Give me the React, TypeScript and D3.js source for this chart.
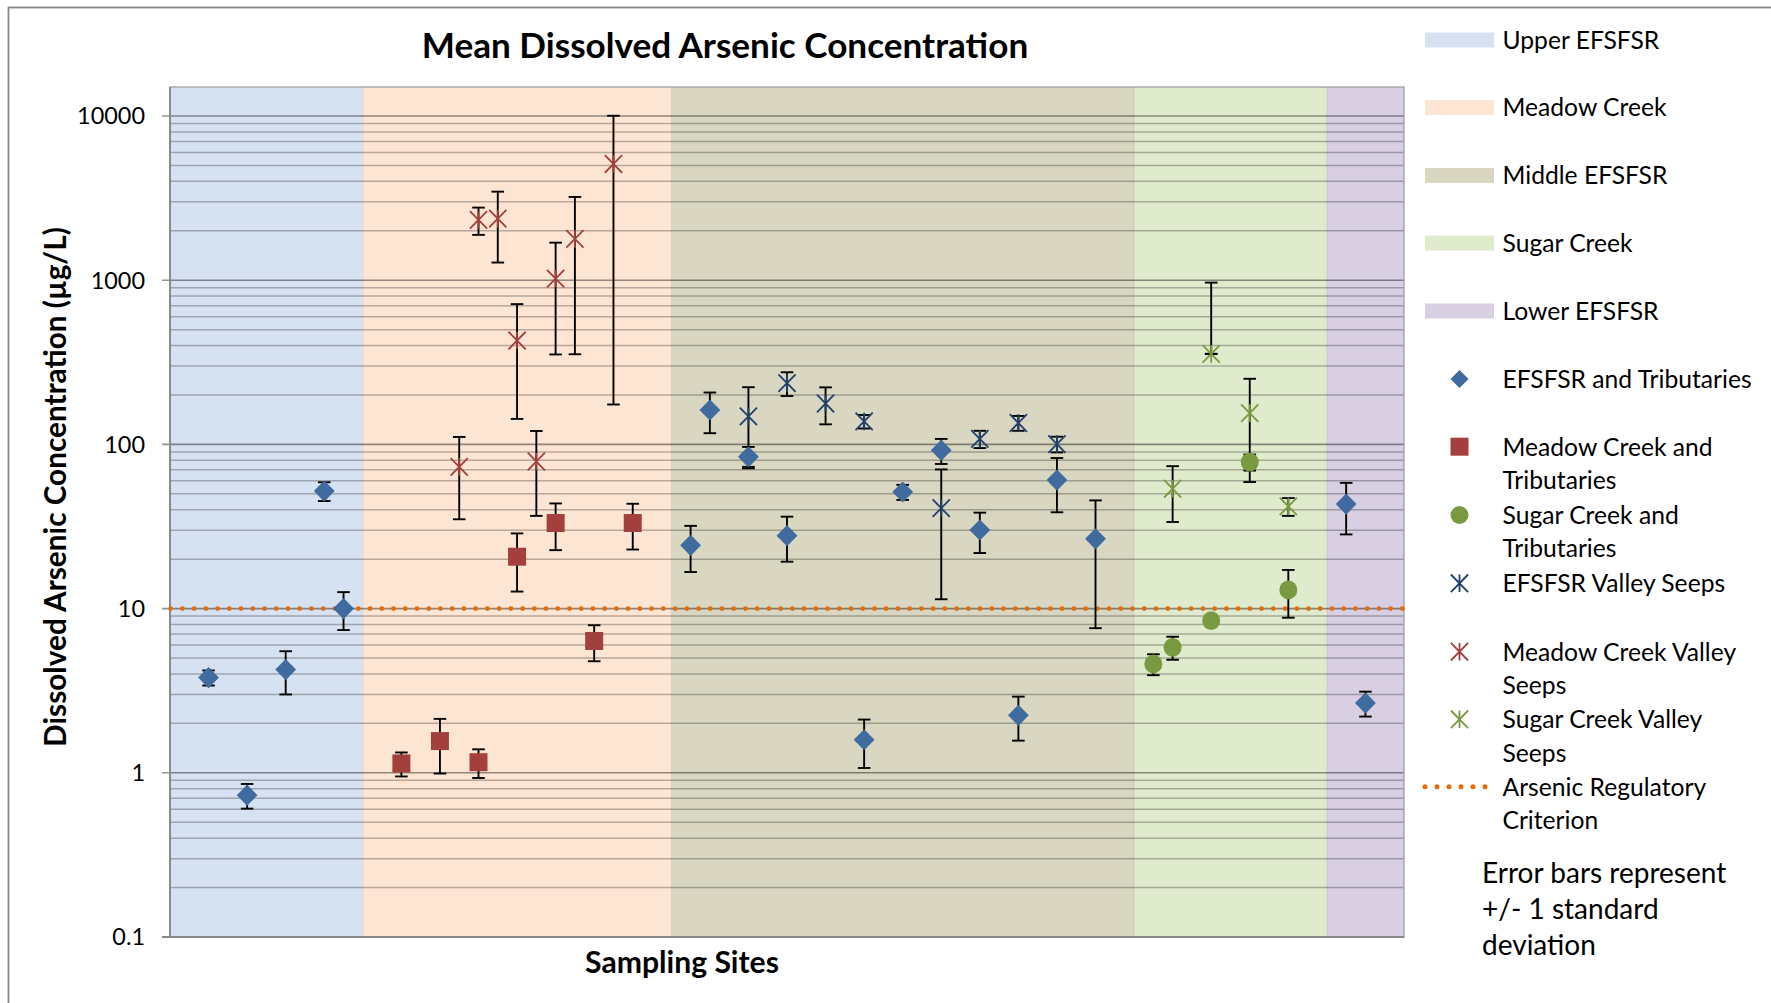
import React, { useMemo } from "react";
import * as d3 from "d3";

const W = 1771;
const H = 1003;
const FAMILY = "Lato";
const FONT = "Lato, 'Open Sans', sans-serif";

// ---------- data ----------
const title = "Mean Dissolved Arsenic Concentration";
const yAxisTitle = "Dissolved Arsenic Concentration (µg/L)";
const xAxisTitle = "Sampling Sites";

const bandNames = ["Upper EFSFSR", "Meadow Creek", "Middle EFSFSR", "Sugar Creek", "Lower EFSFSR"];
const bandStart = [0, 10, 26, 50, 60];
const bandEnd = [10, 26, 50, 60, 64];

const efsX = [2, 4, 6, 8, 9, 27, 28, 30, 32, 36, 38, 40, 42, 44, 46, 48, 61, 62];
const efsMean = [3.8, 0.73, 4.25, 52, 10, 24.3, 162, 84, 27.8, 1.59, 51.3, 92, 30.1, 2.24, 60.6, 26.6, 43.3, 2.66];
const efsSD = [0.4, 0.125, 1.25, 6.8, 2.6, 7.6, 45, 12.5, 8.5, 0.52, 5.4, 16, 8.3, 0.67, 22, 19, 15, 0.46];

const meadowX = [12, 14, 16, 18, 20, 22, 24];
const meadowMean = [1.14, 1.56, 1.16, 20.7, 33.2, 6.35, 33.2];
const meadowSD = [0.19, 0.57, 0.23, 8, 10.5, 1.57, 10.3];

const sugarX = [51, 52, 54, 56, 58];
const sugarMean = [4.6, 5.81, 8.44, 78, 13.0];
const sugarSD = [0.67, 0.93, 0, 8.7, 4.2];

const efsSeepX = [30, 32, 34, 36, 40, 42, 44, 46];
const efsSeepMean = [148, 236, 177.5, 138, 40.9, 108, 135, 100.4];
const efsSeepSD = [75, 39, 45, 13, 29.5, 13, 14, 11];

const meadowSeepX = [15, 16, 17, 18, 19, 20, 21, 23];
const meadowSeepMean = [73, 2328, 2371, 429, 78.7, 1023, 1784, 5105];
const meadowSeepSD = [38, 440, 1090, 286, 42, 670, 1430, 4930];

const sugarSeepX = [52, 54, 56, 58];
const sugarSeepMean = [53.7, 356, 155, 41.9];
const sugarSeepSD = [20, 611, 96, 5.2];

const criterion = 10;

const yTickValues = [0.1, 1, 10, 100, 1000, 10000];
const yTickLabels = ["0.1", "1", "10", "100", "1000", "10000"];

const markerLegendLines = [
  ["EFSFSR and Tributaries"],
  ["Meadow Creek and", "Tributaries"],
  ["Sugar Creek and", "Tributaries"],
  ["EFSFSR Valley Seeps"],
  ["Meadow Creek Valley", "Seeps"],
  ["Sugar Creek Valley", "Seeps"],
  ["Arsenic Regulatory", "Criterion"],
];
const noteLines = ["Error bars represent", "+/- 1 standard", "deviation"];

// ---------- styles ----------
const bandColors = ["#D6E1F1", "#FDE5D3", "#D9D6C2", "#E0EACD", "#D8CFE3"];
const C_EFS = "#3F6B9F";
const C_MEADOW = "#A3403D";
const C_SUGAR = "#7A9A42";
const C_EFS_SEEP = "#23406B";
const C_CRIT = "#E46C0A";

let _ctx: CanvasRenderingContext2D | null = null;
function textWidth(text: string, weight: number) {
  if (!_ctx) _ctx = document.createElement("canvas").getContext("2d");
  if (!_ctx) return text.length * 50;
  _ctx.font = `${weight} 100px ${FAMILY}`;
  return _ctx.measureText(text).width;
}
function fit(text: string, weight: number, target: number) {
  return (100 * target) / textWidth(text, weight);
}

type Pt = { x: number; m: number; sd: number };
function zip(xs: number[], ms: number[], sds: number[]): Pt[] {
  return xs.map((x, i) => ({ x, m: ms[i], sd: sds[i] }));
}

export default function App() {
  const plotL = 170, plotR = 1404, plotT = 87, plotB = 937;
  const x = d3.scaleLinear().domain([0, 64]).range([plotL, plotR]);
  const y = d3.scaleLog().domain([0.1, 10000]).range([plotB, 116]);

  const sizes = useMemo(
    () => ({
      tick: fit("10000", 400, 68),
      legend: fit("EFSFSR and Tributaries", 400, 250),
      note: fit("Error bars represent", 400, 245),
      title: fit(title, 700, 608),
      xl: fit(xAxisTitle, 700, 194),
      yl: fit(yAxisTitle, 700, 521),
    }),
    []
  );
  const CAP = 0.7165;

  const majors: number[] = [];
  const minors: number[] = [];
  for (let k = -1; k <= 4; k++) {
    majors.push(Math.pow(10, k));
    if (k < 4) for (let m = 2; m <= 9; m++) minors.push(m * Math.pow(10, k));
  }

  const efs = zip(efsX, efsMean, efsSD);
  const meadow = zip(meadowX, meadowMean, meadowSD);
  const sugar = zip(sugarX, sugarMean, sugarSD);
  const efsSeep = zip(efsSeepX, efsSeepMean, efsSeepSD);
  const meadowSeep = zip(meadowSeepX, meadowSeepMean, meadowSeepSD);
  const sugarSeep = zip(sugarSeepX, sugarSeepMean, sugarSeepSD);
  const allPts = [...efs, ...meadow, ...sugar, ...efsSeep, ...meadowSeep, ...sugarSeep];

  const capW = 6.3;
  const errorBar = (p: Pt, i: number) => {
    if (!(p.sd > 0)) return null;
    const cx = x(p.x);
    const yHi = y(p.m + p.sd);
    const lo = p.m - p.sd;
    const yLo = lo > 0 ? y(lo) : y(p.m);
    return (
      <g key={"e" + i} stroke="#000" strokeWidth={1.9} fill="none">
        <line x1={cx} x2={cx} y1={yHi} y2={yLo} />
        <line x1={cx - capW} x2={cx + capW} y1={yHi} y2={yHi} />
        <line x1={cx - capW} x2={cx + capW} y1={yLo} y2={yLo} />
      </g>
    );
  };

  const diamond = (cx: number, cy: number, key: string) => (
    <path key={key} d={`M${cx},${cy - 10.6}L${cx + 10.4},${cy}L${cx},${cy + 10.6}L${cx - 10.4},${cy}Z`} fill={C_EFS} />
  );
  const square = (cx: number, cy: number, key: string, c: string) => (
    <rect key={key} x={cx - 9} y={cy - 9} width={18} height={18} fill={c} />
  );
  const circle = (cx: number, cy: number, key: string) => (
    <ellipse key={key} cx={cx} cy={cy} rx={9} ry={9.4} fill={C_SUGAR} />
  );
  const star = (cx: number, cy: number, key: string, c: string) => (
    <path
      key={key}
      d={`M${cx - 8.6},${cy - 8.8}L${cx + 8.6},${cy + 8.8}M${cx - 8.6},${cy + 8.8}L${cx + 8.6},${cy - 8.8}M${cx},${cy - 8.8}L${cx},${cy + 8.8}`}
      stroke={c}
      strokeWidth={1.8}
      fill="none"
    />
  );

  const legendBandY = [40, 107.5, 175.5, 243, 311];
  const legendMarkerY = [379, 446.7, 515, 583.3, 651.7, 719.3, 786.7];
  const legendLineGap = 33.4;
  const lgMx = 1459.5;
  const lgTx = 1502.5;

  const legendMarker = (i: number, cy: number) => {
    switch (i) {
      case 0:
        return <path d={`M${lgMx},${cy - 9}L${lgMx + 9},${cy}L${lgMx},${cy + 9}L${lgMx - 9},${cy}Z`} fill={C_EFS} />;
      case 1:
        return <rect x={lgMx - 9} y={cy - 9} width={18} height={18} fill={C_MEADOW} />;
      case 2:
        return <circle cx={lgMx} cy={cy} r={9} fill={C_SUGAR} />;
      case 3:
        return star(lgMx, cy, "ls3", C_EFS_SEEP);
      case 4:
        return star(lgMx, cy, "ls4", C_MEADOW);
      case 5:
        return star(lgMx, cy, "ls5", C_SUGAR);
      default:
        return (
          <line x1={1425} x2={1488} y1={cy} y2={cy} stroke={C_CRIT} strokeWidth={5} strokeLinecap="round" strokeDasharray="0 12" />
        );
    }
  };

  return (
    <svg width={W} height={H} style={{ position: "absolute", left: 0, top: 0, background: "#fff" }} fontFamily={FONT}>
      <rect x={0} y={0} width={W} height={H} fill="#fff" />
      <rect x={8.5} y={7.5} width={W + 50} height={H + 50} fill="none" stroke="#878787" strokeWidth={1.8} />

      <text x={725} y={45 + (sizes.title * CAP) / 2} textAnchor="middle" fontWeight={700} fontSize={sizes.title} fill="#000">
        {title}
      </text>

      {/* bands */}
      {bandNames.map((n, i) => (
        <rect key={n} x={x(bandStart[i])} y={plotT} width={x(bandEnd[i]) - x(bandStart[i])} height={plotB - plotT} fill={bandColors[i]} />
      ))}
      {bandStart.slice(1).map((b, i) => (
        <line key={"bb" + i} x1={x(b)} x2={x(b)} y1={plotT} y2={plotB} stroke="#000" strokeOpacity={0.06} strokeWidth={1.2} />
      ))}

      {/* gridlines */}
      {minors.map((v) => (
        <line key={"mn" + v} x1={plotL} x2={plotR} y1={y(v)} y2={y(v)} stroke="#000" strokeOpacity={0.27} strokeWidth={1.5} />
      ))}
      {majors.map((v) => (
        <line key={"mj" + v} x1={plotL - 8} x2={plotR} y1={y(v)} y2={y(v)} stroke="#000" strokeOpacity={0.42} strokeWidth={1.6} />
      ))}

      {/* plot border & axis */}
      <rect x={plotL} y={plotT} width={plotR - plotL} height={plotB - plotT} fill="none" stroke="#A6A6A6" strokeWidth={1.4} />
      <line x1={plotL} x2={plotL} y1={plotT} y2={plotB} stroke="#868686" strokeWidth={1.8} />
      <line x1={plotL - 8} x2={plotR} y1={plotB} y2={plotB} stroke="#868686" strokeWidth={1.8} />

      {yTickValues.map((v, i) => (
        <text key={"t" + v} x={145} y={y(v) + (sizes.tick * CAP) / 2} textAnchor="end" fontSize={sizes.tick} fill="#000">
          {yTickLabels[i]}
        </text>
      ))}

      {/* criterion */}
      <line
        x1={plotL + 0.7}
        x2={plotR}
        y1={y(criterion)}
        y2={y(criterion)}
        stroke={C_CRIT}
        strokeWidth={4.9}
        strokeLinecap="round"
        strokeDasharray="0 11.73"
      />

      {/* error bars */}
      {allPts.map((p, i) => errorBar(p, i))}
      {allPts
        .filter((p) => p.sd > 0 && p.m - p.sd <= 0)
        .map((p, i) => (
          <line key={"cz" + i} x1={x(p.x) - capW} x2={x(p.x) + capW} y1={y(p.m)} y2={y(p.m)} stroke="#000" strokeWidth={1.9} />
        ))}

      {/* markers */}
      {efs.map((p, i) => diamond(x(p.x), y(p.m), "d" + i))}
      {meadow.map((p, i) => square(x(p.x), y(p.m), "s" + i, C_MEADOW))}
      {sugar.map((p, i) => circle(x(p.x), y(p.m), "c" + i))}
      {efsSeep.map((p, i) => star(x(p.x), y(p.m), "es" + i, C_EFS_SEEP))}
      {meadowSeep.map((p, i) => star(x(p.x), y(p.m), "ms" + i, C_MEADOW))}
      {sugarSeep.map((p, i) => star(x(p.x), y(p.m), "ss" + i, C_SUGAR))}

      {/* axis titles */}
      <text x={682} y={973.3} textAnchor="middle" fontWeight={700} fontSize={sizes.xl} fill="#000">
        {xAxisTitle}
      </text>
      <text
        transform={`translate(65.6,487) rotate(-90)`}
        textAnchor="middle"
        fontWeight={700}
        fontSize={sizes.yl}
        fill="#000"
      >
        {yAxisTitle}
      </text>

      {/* legend */}
      {bandNames.map((n, i) => (
        <g key={"lb" + n}>
          <rect x={1425} y={legendBandY[i] - 7.5} width={69} height={15} fill={bandColors[i]} />
          <text x={lgTx} y={legendBandY[i] + (sizes.legend * CAP) / 2} fontSize={sizes.legend} fill="#000">
            {n}
          </text>
        </g>
      ))}
      {markerLegendLines.map((lines, i) => (
        <g key={"lm" + i}>
          {legendMarker(i, legendMarkerY[i])}
          {lines.map((ln, j) => (
            <text
              key={j}
              x={lgTx}
              y={legendMarkerY[i] + j * legendLineGap + (sizes.legend * CAP) / 2}
              fontSize={sizes.legend}
              fill="#000"
            >
              {ln}
            </text>
          ))}
        </g>
      ))}
      {noteLines.map((ln, j) => (
        <text key={"n" + j} x={1482} y={883.3 + j * 36} fontSize={sizes.note} fill="#000">
          {ln}
        </text>
      ))}
    </svg>
  );
}
